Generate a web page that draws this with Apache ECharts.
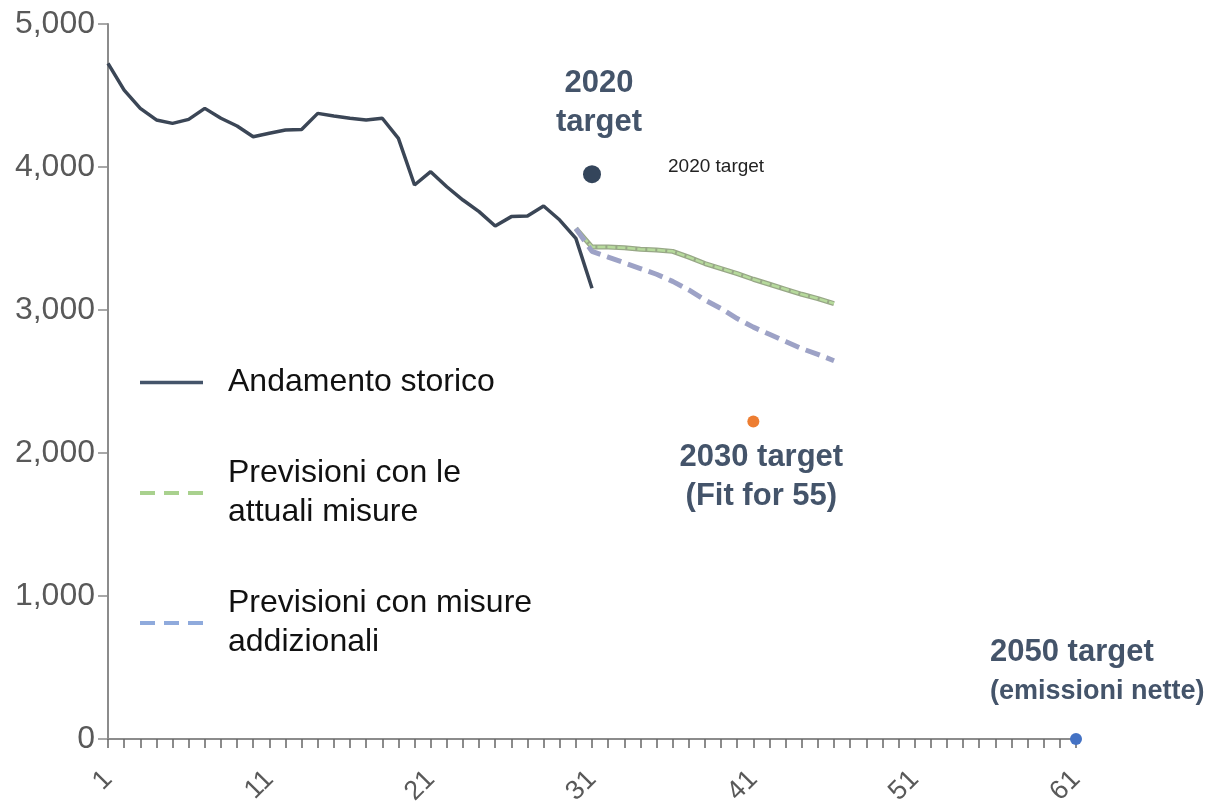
<!DOCTYPE html>
<html>
<head>
<meta charset="utf-8">
<script src="https://cdn.jsdelivr.net/npm/echarts@6/dist/echarts.min.js"></script>
<style>
  html, body { margin: 0; padding: 0; background: #fff; }
  #main { width: 1207px; height: 803px; }
</style>
</head>
<body>
<div id="main"></div>
<script>
// asse x: indici 1..61
const categories = Array.from({ length: 61 }, (_, i) => String(i + 1))

// andamento storico (indici 1..31)
const historical = [
  4725, 4538, 4410, 4329, 4305, 4333, 4410, 4341, 4287, 4212,
  4236, 4259, 4263, 4375, 4357, 4341, 4329, 4341, 4200, 3874,
  3967, 3862, 3769, 3688, 3587, 3653, 3657, 3727, 3629, 3501,
  3152
]

// previsioni (indici 30..46)
const projStart = 30
const currentMeasures = [
  3570, 3440, 3440, 3435, 3425, 3420, 3410, 3370, 3325, 3290,
  3255, 3215, 3180, 3145, 3110, 3080, 3045
]
const additionalMeasures = [
  3570, 3410, 3370, 3330, 3290, 3250, 3200, 3140, 3070, 3010,
  2940, 2880, 2830, 2780, 2730, 2690, 2645
]

// target
const targetIdx = ['31', '41', '61']
const targetValues = [3950, 2220, 0]
const targetLabels = ['{a|2020}\n{a|target}', '{a|2030 target}\n{a|(Fit for 55)}', '{a|2050 target}\n{b|(emissioni nette)}']

const yTicks = [0, 1000, 2000, 3000, 4000, 5000]

const FONT = '"Liberation Sans", Arial, sans-serif'
const LABEL_COLOR = '#44546a'

const toPairs = (arr, start) => arr.map((v, i) => [String(start + i), v])

let chart = echarts.init(document.getElementById('main'))

const hideSymbol = { opacity: 0 }

// posizione etichette dei target
const labelPos = [
  { position: 'top', distance: 23, offset: [7, 0], align: 'center' },
  { position: 'bottom', distance: 10, offset: [8, 0], align: 'center' },
  { position: 'top', distance: 22, offset: [-86, 0], align: 'left' }
]

const option = {
  animation: false,
  textStyle: { fontFamily: FONT },
  grid: {
    left: 108,
    right: 131,
    top: 24,
    bottom: 64,
    containLabel: false,
    outerBoundsMode: 'none'
  },
  legend: {
    orient: 'vertical',
    left: 133,
    top: 358,
    itemGap: 52,
    itemWidth: 63,
    itemHeight: 14,
    textStyle: {
      fontFamily: FONT,
      fontSize: 32,
      color: '#111',
      lineHeight: 39,
      padding: [0, 0, 0, 20]
    },
    data: [
      { name: 'Andamento storico', itemStyle: hideSymbol, lineStyle: { color: '#44546a', width: 3.5 } },
      { name: 'Previsioni con le\nattuali misure', itemStyle: hideSymbol, lineStyle: { color: '#a9d18e', width: 4, type: [15, 9] } },
      { name: 'Previsioni con misure\naddizionali', itemStyle: hideSymbol, lineStyle: { color: '#8faadc', width: 4, type: [15, 9] } }
    ]
  },
  xAxis: {
    type: 'category',
    data: categories,
    boundaryGap: false,
    axisLine: { lineStyle: { color: '#8c8c8c', width: 2 } },
    axisTick: {
      show: true,
      interval: 0,
      length: 9,
      lineStyle: { color: '#666', width: 1.5 }
    },
    axisLabel: {
      interval: 9,
      rotate: 45,
      margin: 36,
      fontSize: 27,
      color: '#595959',
      fontFamily: FONT
    },
    splitLine: { show: false }
  },
  yAxis: {
    type: 'value',
    min: yTicks[0],
    max: yTicks[yTicks.length - 1],
    interval: 1000,
    axisLine: { show: true, lineStyle: { color: '#8c8c8c', width: 2 } },
    axisTick: { show: true, length: 10, lineStyle: { color: '#8c8c8c', width: 1.5 } },
    axisLabel: {
      margin: 13,
      fontSize: 32,
      color: '#595959',
      fontFamily: FONT,
      formatter: (v) => v.toLocaleString('en-US')
    },
    splitLine: { show: false }
  },
  series: [
    {
      name: 'Andamento storico',
      type: 'line',
      data: toPairs(historical, 1),
      symbol: 'none',
      lineStyle: { color: '#3b4656', width: 3.5 },
      z: 3
    },
    {
      // bordo della linea verde
      name: '_bordo',
      type: 'line',
      data: toPairs(currentMeasures, projStart),
      symbol: 'none',
      lineStyle: { color: '#98a887', width: 5 },
      z: 2
    },
    {
      name: 'Previsioni con le\nattuali misure',
      type: 'line',
      data: toPairs(currentMeasures, projStart),
      symbol: 'none',
      lineStyle: { color: '#b6da9c', width: 2.5, type: [8, 2] },
      z: 2
    },
    {
      name: 'Previsioni con misure\naddizionali',
      type: 'line',
      data: toPairs(additionalMeasures, projStart),
      symbol: 'none',
      lineStyle: { color: '#9da2c6', width: 5, type: [15, 7] },
      z: 2
    },
    {
      name: 'target',
      type: 'scatter',
      z: 5,
      data: targetIdx.map((x, i) => ({
        value: [x, targetValues[i]],
        symbolSize: i === 0 ? 18 : 12,
        itemStyle: { color: ['#34455b', '#ed7d31', '#4472c4'][i], opacity: 1 },
        label: Object.assign({
          show: true,
          formatter: targetLabels[i],
          color: LABEL_COLOR,
          rich: {
            a: { fontSize: 31, lineHeight: 39, fontWeight: 'bold', color: LABEL_COLOR, fontFamily: FONT },
            b: { fontSize: 27, lineHeight: 39, fontWeight: 'bold', color: LABEL_COLOR, fontFamily: FONT }
          }
        }, labelPos[i])
      }))
    }
  ]
}

chart.setOption(option)

// etichetta piccola accanto al target 2020
const p = chart.convertToPixel({ xAxisIndex: 0, yAxisIndex: 0 }, [targetIdx[0], targetValues[0]])
chart.setOption({
  graphic: [{
    type: 'text',
    left: p[0] + 76,
    top: p[1] - 17,
    style: {
      text: '2020 target',
      fontSize: 19,
      fill: '#222',
      fontFamily: FONT
    }
  }]
})

window.addEventListener('resize', function () {
  chart.resize()
})
</script>
</body>
</html>
